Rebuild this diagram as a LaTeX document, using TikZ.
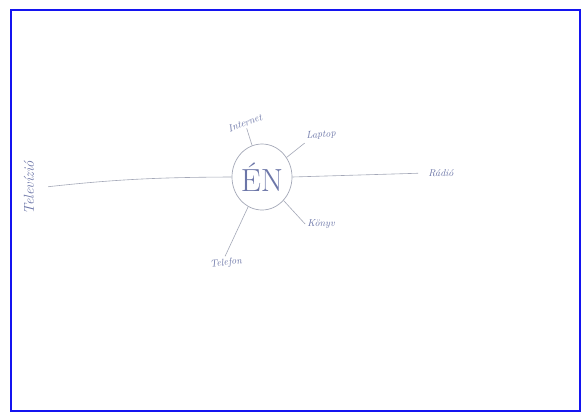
\documentclass[tikz,border=0pt]{standalone}
\usepackage{tikz}
\usetikzlibrary{shapes.geometric,positioning,calc}
\definecolor{pencil}{HTML}{A4A8B8}
\definecolor{inkblue}{HTML}{6C76A8}
\definecolor{frameblue}{HTML}{1414F0}
\tikzset{
  selfnode/.style={ellipse,draw=pencil,line width=0.7pt,minimum width=60pt,minimum height=66pt,
    inner sep=0pt,text=inkblue,font=\fontsize{32}{32}\selectfont},
  topic/.style={font=\itshape\normalsize,text=inkblue,inner sep=2pt},
  spoke/.style={draw=pencil,line width=0.6pt},
}
\begin{document}
\begin{tikzpicture}[x=1pt,y=-1pt]
  \fill[white] (0,0) rectangle (584,416);
  \useasboundingbox (0,0) rectangle (584,416);
  \draw[frameblue,line width=1.4pt] (11,10) rectangle (580,411);
  \node[selfnode] (en) at (262,177) {\'EN};
  \node[topic,rotate=90,font=\itshape\Large] (tv) at (29,188) {Televízió};
  \node[topic] (radio) at (441,173) {Rádió};
  \node[topic,rotate=20] (inet) at (245,123) {Internet};
  \node[topic,rotate=5] (laptop) at (321,135) {Laptop};
  \node[topic] (konyv) at (321,224) {Könyv};
  \node[topic,rotate=8] (tel) at (226,263) {Telefon};
  % spokes
  \draw[spoke,shorten >=12pt] (en.west) to[bend right=3] (tv.south);
  \draw[spoke,shorten >=8pt] (en.east) -- (radio.west);
  \draw[spoke] (en) -- (inet);
  \draw[spoke] (en) -- (laptop.south west);
  \draw[spoke] (en) -- (konyv.west);
  \draw[spoke] (en) -- (tel.north);
\end{tikzpicture}
\end{document}
